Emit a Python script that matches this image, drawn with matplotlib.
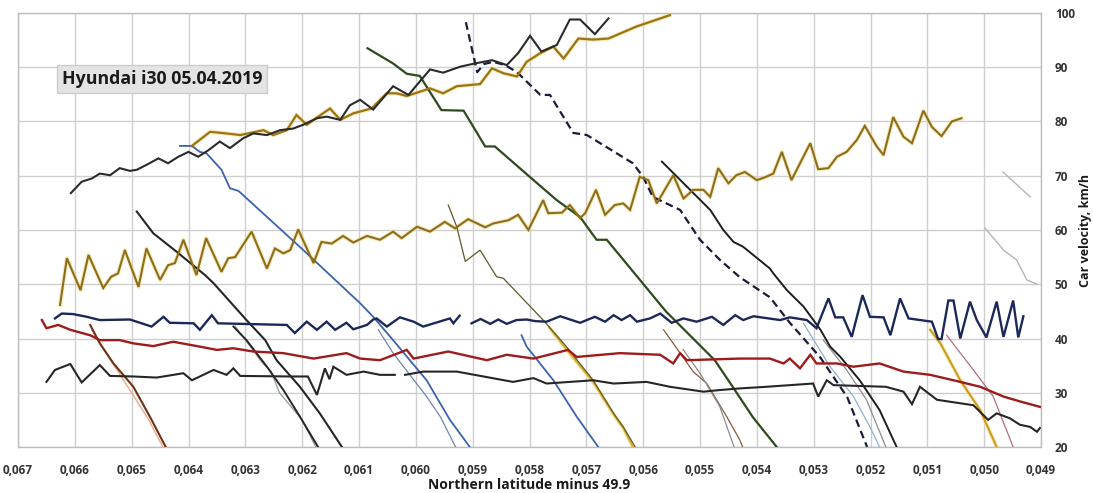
import matplotlib
matplotlib.use("Agg")
import matplotlib.pyplot as plt

# ---------------- data (latitude minus 49.9, velocity km/h) ----------------
black_up_x = [0.06607, 0.06588, 0.06570, 0.06556, 0.06538, 0.06521, 0.06503, 0.06491, 0.06474, 0.06453,
              0.06436, 0.06418, 0.06400, 0.06383, 0.06365, 0.06345, 0.06327, 0.06304, 0.06286, 0.06262,
              0.06239, 0.06216, 0.06198, 0.06174, 0.06157, 0.06133, 0.06116, 0.06098, 0.06075, 0.06040,
              0.06013, 0.05975, 0.05952, 0.05922, 0.05896, 0.05866, 0.05840, 0.05820, 0.05799, 0.05779,
              0.05752, 0.05729, 0.05711, 0.05685, 0.05661]
black_up_y = [66.8, 68.9, 69.5, 70.4, 70.1, 71.4, 70.9, 71.1, 72.0, 73.2,
              72.3, 73.5, 74.4, 73.5, 74.7, 76.3, 75.1, 76.9, 77.8, 77.5,
              78.4, 78.7, 79.4, 80.6, 80.9, 80.3, 83.0, 84.0, 82.2, 86.5,
              84.9, 89.6, 89.0, 90.1, 90.7, 91.3, 90.4, 92.6, 95.8, 92.9,
              94.1, 98.8, 98.8, 96.1, 99.0]

gold_up_x = [0.06394, 0.06362, 0.06333, 0.06309, 0.06268, 0.06251, 0.06227, 0.06210, 0.06192, 0.06151,
             0.06133, 0.06110, 0.06078, 0.06051, 0.06034, 0.06016, 0.05975, 0.05952, 0.05928, 0.05887,
             0.05866, 0.05846, 0.05822, 0.05805, 0.05781, 0.05758, 0.05740, 0.05714, 0.05688, 0.05661,
             0.05612, 0.05553]
gold_up_y = [75.5, 78.1, 77.8, 77.5, 78.4, 77.5, 78.4, 81.2, 79.4, 82.4,
             80.3, 81.5, 82.4, 85.2, 85.2, 84.7, 86.1, 85.2, 86.5, 86.9,
             89.8, 88.9, 88.3, 91.0, 92.6, 93.8, 91.6, 95.3, 95.1, 95.3,
             97.5, 99.6]

gold_mid_x = [0.06626, 0.06614, 0.06590, 0.06576, 0.06550, 0.06536, 0.06524, 0.06512, 0.06488, 0.06474,
              0.06450, 0.06436, 0.06424, 0.06409, 0.06386, 0.06369, 0.06342, 0.06330, 0.06318, 0.06289,
              0.06262, 0.06248, 0.06233, 0.06221, 0.06207, 0.06180, 0.06166, 0.06148, 0.06128, 0.06110,
              0.06086, 0.06063, 0.06040, 0.06025, 0.05998, 0.05975, 0.05949, 0.05931, 0.05908, 0.05878,
              0.05864, 0.05837, 0.05820, 0.05802, 0.05776, 0.05767, 0.05743, 0.05729, 0.05711, 0.05702,
              0.05683, 0.05667, 0.05650, 0.05635, 0.05623, 0.05606, 0.05591, 0.05576, 0.05547, 0.05529,
              0.05512, 0.05494, 0.05482, 0.05468, 0.05450, 0.05436, 0.05421, 0.05400, 0.05386, 0.05371,
              0.05356, 0.05339, 0.05324, 0.05306, 0.05292, 0.05274, 0.05259, 0.05242, 0.05224, 0.05210,
              0.05189, 0.05177, 0.05160, 0.05142, 0.05127, 0.05107, 0.05092, 0.05075, 0.05057, 0.05040]
gold_mid_y = [46.2, 54.8, 48.9, 55.4, 49.3, 51.4, 52.0, 56.3, 49.5, 56.6,
              50.8, 53.5, 53.9, 58.2, 51.7, 58.5, 52.3, 54.8, 55.0, 59.7,
              52.9, 56.6, 55.7, 56.3, 60.1, 53.9, 57.8, 57.5, 58.9, 57.7,
              58.9, 58.2, 59.7, 58.5, 60.6, 59.7, 61.5, 60.3, 62.0, 60.5,
              61.2, 61.8, 62.8, 60.0, 65.5, 63.1, 63.2, 64.6, 62.2, 63.1,
              67.4, 62.8, 64.6, 64.9, 63.7, 69.8, 69.2, 64.9, 70.1, 65.8,
              67.4, 67.4, 66.1, 71.4, 68.6, 70.1, 70.7, 69.2, 69.7, 70.4,
              74.4, 69.2, 72.3, 76.0, 71.2, 71.4, 73.5, 74.4, 76.6, 79.2,
              75.4, 73.8, 80.8, 77.2, 76.0, 82.0, 79.0, 77.3, 80.0, 80.6]

navy_a_x = [0.06635, 0.06623, 0.06603, 0.06579, 0.06556, 0.06503, 0.06465, 0.06444, 0.06433, 0.06391,
            0.06380, 0.06359, 0.06348, 0.06227, 0.06213, 0.06192, 0.06174, 0.06157, 0.06142, 0.06122,
            0.06110, 0.06086, 0.06075, 0.06069, 0.06051, 0.06028, 0.06004, 0.05987, 0.05940, 0.05934,
            0.05923]
navy_a_y = [43.7, 44.6, 44.5, 44.0, 43.4, 43.5, 42.2, 44.0, 42.9, 42.8,
            41.6, 44.3, 42.8, 42.5, 41.0, 43.1, 41.6, 43.1, 41.6, 42.9,
            41.7, 42.5, 43.5, 43.7, 42.2, 43.9, 43.1, 42.2, 43.7, 42.8,
            44.2]
navy_b_x = [0.05902, 0.05886, 0.05869, 0.05855, 0.05840, 0.05823, 0.05805, 0.05790, 0.05770, 0.05746,
            0.05711, 0.05685, 0.05667, 0.05652, 0.05638, 0.05623, 0.05611, 0.05588, 0.05570, 0.05550,
            0.05529, 0.05506, 0.05479, 0.05459, 0.05438, 0.05424, 0.05406, 0.05359, 0.05342, 0.05312,
            0.05295, 0.05274, 0.05262, 0.05248, 0.05233, 0.05214, 0.05201, 0.05177, 0.05165, 0.05148,
            0.05133, 0.05092, 0.05081, 0.05075, 0.05063, 0.05054, 0.05042, 0.05025, 0.05013, 0.04996,
            0.04978, 0.04966, 0.04949, 0.04940, 0.04931]
navy_b_y = [42.8, 43.6, 42.7, 43.5, 42.7, 43.4, 43.5, 43.2, 43.1, 44.1,
            42.9, 44.0, 43.1, 44.3, 43.4, 44.3, 43.1, 43.7, 44.6, 42.9,
            43.7, 43.1, 44.0, 42.5, 44.3, 43.4, 44.1, 43.4, 43.9, 43.4,
            41.9, 47.4, 43.9, 43.9, 40.3, 48.0, 44.0, 43.9, 40.6, 47.4,
            43.7, 43.1, 39.9, 39.9, 47.0, 47.0, 40.0, 46.8, 43.4, 40.2,
            46.8, 40.3, 47.0, 40.2, 44.1]

red_x = [0.06658, 0.06650, 0.06629, 0.06608, 0.06573, 0.06556, 0.06521, 0.06497, 0.06462, 0.06427,
         0.06380, 0.06350, 0.06321, 0.06286, 0.06233, 0.06180, 0.06122, 0.06098, 0.06063, 0.06016,
         0.06004, 0.05943, 0.05875, 0.05840, 0.05793, 0.05732, 0.05717, 0.05641, 0.05570, 0.05547,
         0.05535, 0.05523, 0.05430, 0.05377, 0.05353, 0.05342, 0.05324, 0.05306, 0.05295, 0.05259,
         0.05230, 0.05184, 0.05142, 0.05095, 0.05054, 0.05007, 0.04966, 0.04937, 0.04902]
red_y = [43.4, 41.9, 42.5, 41.6, 40.6, 39.7, 39.7, 39.1, 38.6, 39.4,
         38.5, 37.9, 38.2, 37.6, 37.3, 36.3, 37.3, 36.3, 36.0, 37.9,
         36.3, 37.6, 36.0, 37.0, 36.3, 37.9, 36.6, 37.3, 37.0, 35.4,
         37.3, 36.0, 36.3, 36.3, 35.4, 36.3, 34.5, 37.0, 35.4, 35.4,
         34.8, 35.4, 33.9, 33.3, 32.3, 31.1, 29.3, 28.4, 27.4]

black_low_a_x = [0.06650, 0.06635, 0.06608, 0.06588, 0.06556, 0.06538, 0.06497, 0.06456, 0.06409, 0.06394,
                 0.06356, 0.06333, 0.06321, 0.06309, 0.06221, 0.06190, 0.06174, 0.06160, 0.06152, 0.06145,
                 0.06122, 0.06092, 0.06063, 0.06037]
black_low_a_y = [32.0, 34.2, 35.3, 31.9, 35.1, 33.1, 33.0, 32.8, 33.6, 32.3,
                 34.2, 33.3, 34.5, 33.1, 33.0, 33.0, 29.6, 34.5, 32.5, 34.8,
                 33.3, 33.9, 33.3, 33.3]
black_low_b_x = [0.06019, 0.05987, 0.05928, 0.05881, 0.05829, 0.05793, 0.05770, 0.05688, 0.05652, 0.05594,
                 0.05553, 0.05494, 0.05465, 0.05430, 0.05383, 0.05301, 0.05292, 0.05277, 0.05265, 0.05173,
                 0.05142, 0.05127, 0.05113, 0.05083, 0.05019, 0.04993, 0.04978, 0.04955, 0.04937, 0.04919,
                 0.04907, 0.04902]
black_low_b_y = [33.3, 33.9, 33.9, 33.0, 32.0, 32.7, 31.7, 32.3, 31.7, 32.0,
                 31.1, 30.2, 30.5, 30.8, 31.1, 31.7, 29.3, 32.3, 31.4, 31.1,
                 30.2, 27.9, 31.1, 28.7, 27.7, 25.0, 26.2, 25.3, 24.1, 23.7,
                 22.8, 23.5]

blue_dec_x = [0.06415, 0.06394, 0.06380, 0.06368, 0.06342, 0.06327, 0.06312, 0.06198, 0.06098, 0.06075,
              0.06040, 0.05981, 0.05940, 0.05905]
blue_dec_y = [75.5, 75.5, 74.4, 74.1, 71.1, 67.7, 67.2, 56.3, 46.5, 44.0,
              39.7, 32.3, 25.0, 20.0]
bluegray_dec_x = [0.06066, 0.06040, 0.05981, 0.05957, 0.05930]
bluegray_dec_y = [41.6, 37.3, 29.3, 25.6, 20.0]

green_dec_x = [0.06085, 0.06040, 0.06016, 0.05993, 0.05955, 0.05916, 0.05878, 0.05861, 0.05793, 0.05752,
               0.05711, 0.05682, 0.05664, 0.05560, 0.05474, 0.05447, 0.05407, 0.05365]
green_dec_y = [93.5, 90.7, 88.8, 88.4, 82.1, 82.0, 75.4, 75.4, 69.2, 65.5,
               62.4, 58.2, 58.2, 45.0, 36.0, 31.8, 25.5, 20.0]

dashed_x = [0.05912, 0.05892, 0.05880, 0.05864, 0.05843, 0.05822, 0.05781, 0.05764, 0.05723, 0.05699,
            0.05618, 0.05600, 0.05583, 0.05535, 0.05500, 0.05465, 0.05430, 0.05377, 0.05342, 0.05289,
            0.05241, 0.05206]
dashed_y = [98.3, 89.1, 90.6, 91.0, 90.4, 89.1, 84.9, 84.9, 77.9, 77.5,
            72.3, 69.8, 66.1, 63.7, 58.2, 54.5, 51.3, 47.6, 42.9, 36.6,
            29.2, 20.0]

black_dec_a_x = [0.05567, 0.05482, 0.05459, 0.05441, 0.05424, 0.05377, 0.05371, 0.05347, 0.05318, 0.05288,
                 0.05271, 0.05253, 0.05219, 0.05184, 0.05154]
black_dec_a_y = [72.6, 63.7, 60.0, 57.8, 56.9, 52.9, 52.0, 48.9, 45.9, 41.6,
                 38.5, 36.6, 32.3, 26.8, 20.0]
lightblue_dec_x = [0.05318, 0.05271, 0.05230, 0.05201, 0.05184]
lightblue_dec_y = [42.8, 34.8, 29.3, 23.7, 20.0]
gray_dec_x = [0.05283, 0.05242, 0.05207, 0.05173]
gray_dec_y = [39.7, 34.2, 28.7, 20.0]

brown_dec_x = [0.06573, 0.06556, 0.06532, 0.06497, 0.06468, 0.06440]
brown_dec_y = [42.5, 39.1, 35.4, 31.1, 25.6, 20.0]
peach_dec_x = [0.06570, 0.06540, 0.06500, 0.06470, 0.06445]
peach_dec_y = [41.5, 36.5, 30.0, 25.0, 20.0]

black_dec_b_x = [0.06491, 0.06462, 0.06421, 0.06371, 0.06356, 0.06327, 0.06298, 0.06265, 0.06245, 0.06204,
                 0.06169, 0.06130]
black_dec_b_y = [63.4, 59.4, 56.0, 51.7, 50.2, 46.8, 43.4, 39.7, 36.0, 31.1,
                 26.2, 20.0]
black_dec_c_x = [0.06321, 0.06298, 0.06262, 0.06233, 0.06204, 0.06172]
black_dec_c_y = [42.2, 39.7, 34.8, 30.5, 25.6, 20.0]
gray_dec_c_x = [0.06318, 0.06270, 0.06255, 0.06240, 0.06200, 0.06176]
gray_dec_c_y = [42.3, 35.5, 34.0, 30.0, 25.0, 20.0]

olive_dec_x = [0.05943, 0.05928, 0.05913, 0.05887, 0.05858, 0.05846, 0.05776, 0.05735, 0.05688, 0.05652,
               0.05635, 0.05614]
olive_dec_y = [64.6, 60.6, 54.2, 56.3, 51.4, 51.1, 43.4, 38.5, 32.3, 26.2,
               23.7, 20.0]
gold_dec_a_x = [0.05765, 0.05735, 0.05688, 0.05652, 0.05635, 0.05618]
gold_dec_a_y = [42.0, 38.0, 32.0, 26.0, 23.5, 20.0]

blue_dec_b_x = [0.05814, 0.05805, 0.05758, 0.05717, 0.05679]
blue_dec_b_y = [40.6, 38.5, 32.3, 25.6, 20.0]

brownthin_dec_x = [0.05564, 0.05512, 0.05488, 0.05453, 0.05430, 0.05425]
brownthin_dec_y = [41.6, 33.9, 31.7, 25.6, 21.3, 20.0]
graythin_dec_x = [0.05530, 0.05500, 0.05465, 0.05440]
graythin_dec_y = [38.0, 33.6, 27.4, 20.0]

gold_dec_b_x = [0.05095, 0.05077, 0.05042, 0.05007, 0.04978]
gold_dec_b_y = [41.6, 39.1, 32.3, 26.8, 20.0]
pink_dec_x = [0.05066, 0.05019, 0.04984, 0.04949]
pink_dec_y = [40.6, 34.2, 29.3, 20.0]

lgray_a_x = [0.04967, 0.04919]
lgray_a_y = [70.7, 66.1]
lgray_b_x = [0.04998, 0.04966, 0.04943, 0.04925, 0.04907]
lgray_b_y = [60.3, 56.3, 54.5, 50.8, 50.0]

x_ticks = [0.067, 0.066, 0.065, 0.064, 0.063, 0.062, 0.061, 0.060, 0.059, 0.058,
           0.057, 0.056, 0.055, 0.054, 0.053, 0.052, 0.051, 0.050, 0.049]
y_ticks = [20, 30, 40, 50, 60, 70, 80, 90, 100]

# ---------------- figure ----------------
plt.rcParams['font.family'] = ['Open Sans', 'DejaVu Sans']
fig = plt.figure(figsize=(10.93, 4.93), dpi=100)
ax = fig.add_axes([18/1093, 1-447/493, (1041-18)/1093, (447-13)/493])

def line(x, y, color, lw=1.5, ls='-', z=3):
    ax.plot(x, y, color=color, lw=lw, ls=ls, zorder=z, solid_joinstyle='miter')

# soft halos for gold lines
for xx, yy in [(gold_up_x, gold_up_y), (gold_mid_x, gold_mid_y), (gold_dec_a_x, gold_dec_a_y), (gold_dec_b_x, gold_dec_b_y)]:
    ax.plot(xx, yy, color='#f3dc8a', lw=3.0, zorder=2, alpha=0.6)

line(lgray_a_x, lgray_a_y, '#b5b5b5', 1.0)
line(lgray_b_x, lgray_b_y, '#b5b5b5', 1.0)
line(peach_dec_x, peach_dec_y, '#e7a98a', 1.0)
line(brown_dec_x, brown_dec_y, '#6e3314', 1.5)
line(gray_dec_c_x, gray_dec_c_y, '#8c9a9a', 0.9)
line(black_dec_c_x, black_dec_c_y, '#262626', 1.4)
line(black_dec_b_x, black_dec_b_y, '#262626', 1.5)
line(bluegray_dec_x, bluegray_dec_y, '#6f86a8', 0.9)
line(blue_dec_x, blue_dec_y, '#3b63ad', 1.3)
line(gold_dec_a_x, gold_dec_a_y, '#d6ae2c', 1.4)
line(olive_dec_x, olive_dec_y, '#5e5a2a', 0.9)
line(blue_dec_b_x, blue_dec_b_y, '#3b63ad', 1.3)
line(brownthin_dec_x, brownthin_dec_y, '#8a5a3a', 0.9)
line(graythin_dec_x, graythin_dec_y, '#8d8d8d', 0.9)
line(green_dec_x, green_dec_y, '#2f4a1c', 1.6)
line(lightblue_dec_x, lightblue_dec_y, '#8fb0d0', 0.9)
line(gray_dec_x, gray_dec_y, '#8d8d8d', 0.9)
line(black_dec_a_x, black_dec_a_y, '#1e1e1e', 1.4)
ax.plot(dashed_x, dashed_y, color='#1a1a3a', lw=1.6, ls=(0, (3.5, 2)), zorder=3)
line(gold_dec_b_x, gold_dec_b_y, '#c99a1a', 1.4)
line(pink_dec_x, pink_dec_y, '#b07080', 0.9)
line(gold_mid_x, gold_mid_y, '#8c6e1e', 1.5)
line(gold_up_x, gold_up_y, '#9b7416', 1.6)
line(black_up_x, black_up_y, '#2a2a2a', 1.5)
line(black_low_a_x, black_low_a_y, '#262626', 1.5)
line(black_low_b_x, black_low_b_y, '#262626', 1.5)
line(red_x, red_y, '#9e1b1b', 1.7)
line(navy_a_x, navy_a_y, '#1c2858', 1.7)
line(navy_b_x, navy_b_y, '#1c2858', 1.7)

ax.set_xlim(0.067, 0.049)
ax.set_ylim(20, 100)
ax.set_xticks(x_ticks)
ax.set_xticklabels([('%.3f' % v).replace('.', ',') for v in x_ticks])
ax.set_yticks(y_ticks)
ax.yaxis.tick_right()
ax.yaxis.set_label_position('right')
ax.tick_params(axis='both', length=0, labelsize=8.5, labelcolor='#333333')
ax.tick_params(axis='x', pad=12)
ax.tick_params(axis='y', pad=10)
for lab in ax.get_xticklabels() + ax.get_yticklabels():
    lab.set_fontweight('bold')
ax.grid(True, color='#cfcfcf', lw=1.0)
ax.set_axisbelow(True)
for s in ['left', 'top', 'bottom', 'right']:
    ax.spines[s].set_color('#bdbdbd')
    ax.spines[s].set_linewidth(1.0)

ax.set_ylabel('Car velocity, km/h', fontsize=9, fontweight='bold', labelpad=3, color='#1a1a1a')
ax.set_xlabel('Northern latitude minus 49.9', fontsize=10, fontweight='bold', labelpad=1, color='#1a1a1a')

fig.text(62/1093, 1-79/493, 'Hyundai i30 05.04.2019', fontsize=12.8, fontweight='bold',
         va='center', ha='left', color='#1a1a1a',
         bbox=dict(boxstyle='square,pad=0.28', facecolor='#e4e4e4', edgecolor='#cccccc', lw=1))

fig.savefig('out.png', dpi=100)
